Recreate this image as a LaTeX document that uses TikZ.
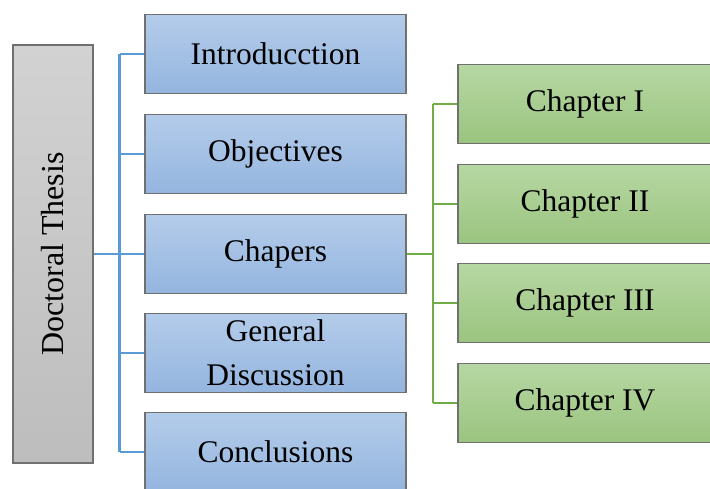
\documentclass[tikz,border=0pt]{standalone}
\usepackage{fontspec}
\setmainfont{Liberation Serif}
\definecolor{bluetop}{HTML}{B4CCEA}
\definecolor{bluebot}{HTML}{94B5DF}
\definecolor{greentop}{HTML}{B6D7A3}
\definecolor{greenbot}{HTML}{9BC47F}
\definecolor{graytop}{HTML}{D2D2D2}
\definecolor{graybot}{HTML}{BDBDBD}
\definecolor{boxline}{HTML}{707070}
\definecolor{blueline}{HTML}{5B9BD5}
\definecolor{greenline}{HTML}{70AD47}
\tikzset{
  basebox/.style={draw=boxline, line width=1.3pt, rectangle, align=center,
    font=\fontsize{31.5}{44}\selectfont, inner sep=0pt},
  bluebox/.style={basebox, top color=bluetop, bottom color=bluebot,
    minimum width=261pt, minimum height=79pt},
  greenbox/.style={basebox, top color=greentop, bottom color=greenbot,
    minimum width=254pt, minimum height=79pt},
  thesisbox/.style={basebox, top color=graytop, bottom color=graybot,
    minimum width=80pt, minimum height=418pt},
  bconn/.style={draw=blueline, line width=2.6pt},
  gconn/.style={draw=greenline, line width=2.6pt},
}
\begin{document}
\begin{tikzpicture}[x=1pt,y=-1pt]
\useasboundingbox (0,0) rectangle (710,489);
\clip (0,0) rectangle (710,489);
\fill[white] (0,0) rectangle (710,489);
% left box
\node[thesisbox] (thesis) at (53,254) {};
\node[rotate=90, font=\fontsize{32}{38}\selectfont] (thesislabel) at (thesis.center) {Doctoral Thesis};
% blue boxes
\node[bluebox] (intro) at (275.5,54) {Introducction};
\node[bluebox] (obj) at (275.5,154) {Objectives};
\node[bluebox] (chap) at (275.5,254) {Chapers};
\node[bluebox] (gd) at (275.5,353) {General\\Discussion};
\node[bluebox] (concl) at (275.5,452) {Conclusions};
% green boxes
\node[greenbox] (c1) at (585,104) {Chapter I};
\node[greenbox] (c2) at (585,204) {Chapter II};
\node[greenbox] (c3) at (585,303) {Chapter III};
\node[greenbox] (c4) at (585,403) {Chapter IV};
% blue connectors
\coordinate (bj) at (119.5,254);
\draw[bconn] (thesis.east |- bj) -- (bj);
\draw[bconn] (bj |- intro.west) -- (bj |- concl.west);
\foreach \n in {intro,obj,chap,gd,concl}{
  \draw[bconn] (bj |- \n.west) -- (\n.west);
}
% green connectors
\coordinate (gj) at (433,254);
\draw[gconn] (chap.east) -- (gj);
\draw[gconn] (gj |- c1.west) -- (gj |- c4.west);
\foreach \n in {c1,c2,c3,c4}{
  \draw[gconn] (gj |- \n.west) -- (\n.west);
}
\end{tikzpicture}
\end{document}
